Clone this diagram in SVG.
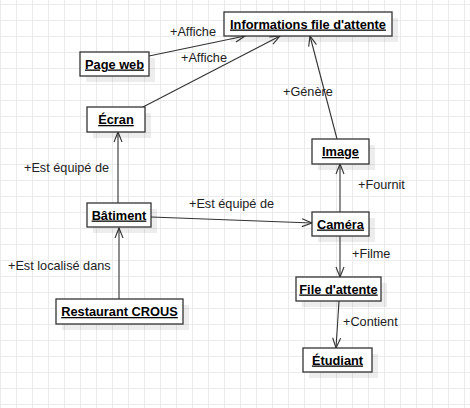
<svg xmlns="http://www.w3.org/2000/svg" width="470" height="408" viewBox="0 0 470 408">
<defs>
<pattern id="grid" x="0" y="4" width="16" height="16" patternUnits="userSpaceOnUse">
<path d="M0.5,0 V16 M0,0.5 H16" stroke="#ebebeb" stroke-width="1" fill="none"/>
</pattern>
<marker id="arr" markerUnits="userSpaceOnUse" markerWidth="14" markerHeight="12" refX="11" refY="5" orient="auto">
<path d="M1,1 L11,5 L1,9" fill="none" stroke="#333" stroke-width="1.1"/>
</marker>
<style>
.box{fill:#fff;stroke:#333;stroke-width:1.3}
.sh{fill:#000;fill-opacity:0.07}
.t{font-family:"Liberation Sans",Arial,sans-serif;font-size:12.8px;font-weight:bold;fill:#000;text-anchor:middle;text-decoration:underline}
.l{font-family:"Liberation Sans",Arial,sans-serif;font-size:12.7px;fill:#222}
.c{stroke:#333;stroke-width:1.1;fill:none;marker-end:url(#arr)}
</style>
</defs>
<rect width="470" height="408" fill="#fff"/>
<rect width="470" height="408" fill="url(#grid)"/>

<g id="connectors">
<line class="c" x1="149" y1="56" x2="245" y2="36"/>
<line class="c" x1="143" y1="107" x2="280" y2="36"/>
<line class="c" x1="337" y1="139" x2="310" y2="36"/>
<line class="c" x1="118" y1="203" x2="118" y2="132"/>
<line class="c" x1="119" y1="299" x2="119" y2="228"/>
<line class="c" x1="151" y1="217" x2="312" y2="223"/>
<line class="c" x1="340" y1="212" x2="340" y2="164"/>
<line class="c" x1="340" y1="236" x2="340" y2="277"/>
<line class="c" x1="339" y1="301" x2="336" y2="348"/>
<text class="l" x="170" y="36">+Affiche</text>
<text class="l" x="181" y="62">+Affiche</text>
<text class="l" x="283" y="96">+Génère</text>
<text class="l" x="24" y="172">+Est équipé de</text>
<text class="l" x="189" y="208">+Est équipé de</text>
<text class="l" x="8" y="270">+Est localisé dans</text>
<text class="l" x="358" y="189">+Fournit</text>
<text class="l" x="352" y="258">+Filme</text>
<text class="l" x="343" y="326">+Contient</text>
</g>

<g id="informations">
<rect class="sh" x="230" y="18" width="168" height="24"/>
<rect class="box" x="224" y="12" width="168" height="24"/>
<text class="t" x="308" y="28.5">Informations file d'attente</text>
</g>
<g id="pageweb">
<rect class="sh" x="86" y="58" width="69" height="24"/>
<rect class="box" x="80" y="52" width="69" height="24"/>
<text class="t" x="114.5" y="68.5">Page web</text>
</g>
<g id="ecran">
<rect class="sh" x="93" y="113" width="58" height="25"/>
<rect class="box" x="87" y="107" width="58" height="25"/>
<text class="t" x="116" y="124">Écran</text>
</g>
<g id="batiment">
<rect class="sh" x="93" y="209" width="64" height="24"/>
<rect class="box" x="87" y="203" width="64" height="24"/>
<text class="t" x="119" y="219.5">Bâtiment</text>
</g>
<g id="restaurant">
<rect class="sh" x="62" y="305" width="127" height="25"/>
<rect class="box" x="56" y="299" width="127" height="25"/>
<text class="t" x="119.5" y="316">Restaurant CROUS</text>
</g>
<g id="image">
<rect class="sh" x="318" y="145" width="57" height="25"/>
<rect class="box" x="312" y="139" width="57" height="25"/>
<text class="t" x="340.5" y="156">Image</text>
</g>
<g id="camera">
<rect class="sh" x="318" y="218" width="57" height="24"/>
<rect class="box" x="312" y="212" width="57" height="24"/>
<text class="t" x="340.5" y="228.5">Caméra</text>
</g>
<g id="filedattente">
<rect class="sh" x="302" y="283" width="85" height="24"/>
<rect class="box" x="296" y="277" width="85" height="24"/>
<text class="t" x="338.5" y="293.5">File d'attente</text>
</g>
<g id="etudiant">
<rect class="sh" x="309" y="354" width="69" height="24"/>
<rect class="box" x="303" y="348" width="69" height="24"/>
<text class="t" x="337.5" y="364.5">Étudiant</text>
</g>
</svg>
